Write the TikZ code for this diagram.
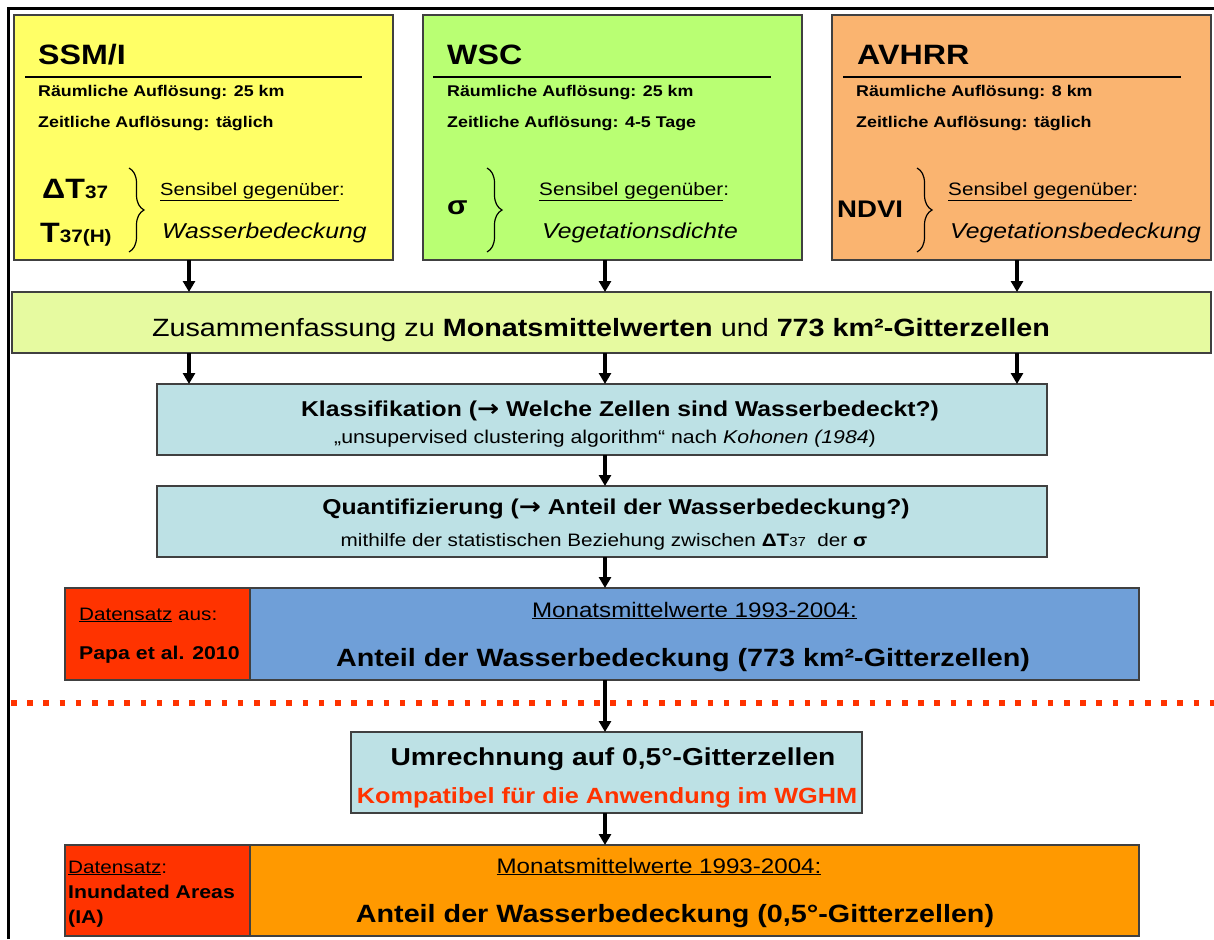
\documentclass[tikz,border=0pt]{standalone}
\usepackage{fontspec}
\setmainfont{Liberation Sans}[FakeStretch=1.15]
\newfontfamily\arrowfont{DejaVu Sans}[FakeStretch=1.15]
\usetikzlibrary{arrows.meta,decorations.pathreplacing}

\definecolor{ssmiyellow}{HTML}{FFFF66}
\definecolor{wscgreen}{HTML}{B9FF73}
\definecolor{avhrrorange}{HTML}{FAB470}
\definecolor{summgreen}{HTML}{E6FAA0}
\definecolor{procblue}{HTML}{BDE1E5}
\definecolor{resblue}{HTML}{6F9FD8}
\definecolor{datred}{HTML}{FF3300}
\definecolor{resorange}{HTML}{FF9900}

\newcommand{\fsz}[1]{\fontsize{#1}{#1}\selectfont}
\newcommand{\bigarr}{{\arrowfont\bfseries\fsz{23}→}}

\tikzset{
    frame/.style={line width=3pt},
    srcbox/.style={draw=black!75, line width=1.6pt, anchor=north west,
        minimum width=379pt, minimum height=245pt, inner sep=0, outer sep=0},
    flowbox/.style={draw=black!75, line width=1.6pt, inner sep=0, outer sep=0},
    txt/.style={inner sep=0, anchor=base west},
    ctxt/.style={inner sep=0, anchor=base},
    rule/.style={line width=1.2pt},
    brc/.style={decorate, decoration={brace, amplitude=15pt}, line width=1.2pt},
    arr/.style={line width=3.3pt, -{Triangle[length=11pt,width=12pt]}},
}

\begin{document}
\begin{tikzpicture}[x=1pt, y=-1pt]
\useasboundingbox (0,0) rectangle (1214,939);

% ========= Rahmen =========
\draw[frame] (8.5,939) -- (8.5,8.5) -- (1214,8.5);

% ========= SSM/I =========
\begin{scope}[shift={(14,15)}]
    \node[srcbox, fill=ssmiyellow] (ssmi) at (0,0) {};
    \node[txt, font=\fsz{28}\bfseries] (ssmi-title) at (24,50) {SSM/I};
    \draw[rule] (11,62) -- (348,62);
    \node[txt, font=\fsz{15.5}\bfseries] (ssmi-res) at (24,81) {Räumliche Auflösung: 25 km};
    \node[txt, font=\fsz{15.5}\bfseries] (ssmi-time) at (24,113) {Zeitliche Auflösung: täglich};
    % Messgroessen + Klammer
    \node[txt, font=\fsz{28}\bfseries] (ssmi-dt) at (28,183) {ΔT{\fsz{18}37}};
    \node[txt, font=\fsz{28}\bfseries] (ssmi-t) at (26,227) {T{\fsz{18}37(H)}};
    \draw[brc] (115,153) -- (115,237);
    \node[txt, font=\fsz{17.5}] (ssmi-sens) at (146,180) {\underline{Sensibel gegenüber}:};
    \node[txt, font=\fsz{21.5}\itshape] (ssmi-what) at (148,223) {Wasserbedeckung};
\end{scope}

% ========= WSC =========
\begin{scope}[shift={(423,15)}]
    \node[srcbox, fill=wscgreen] (wsc) at (0,0) {};
    \node[txt, font=\fsz{28}\bfseries] (wsc-title) at (24,50) {WSC};
    \draw[rule] (10,62) -- (348,62);
    \node[txt, font=\fsz{15.5}\bfseries] (wsc-res) at (24,81) {Räumliche Auflösung: 25 km};
    \node[txt, font=\fsz{15.5}\bfseries] (wsc-time) at (24,113) {Zeitliche Auflösung: 4-5 Tage};
    % Messgroesse + Klammer
    \node[txt, font=\fsz{26}\bfseries] (wsc-sigma) at (24,199) {σ};
    \draw[brc] (64,153) -- (64,237);
    \node[txt, font=\fsz{18}] (wsc-sens) at (116,180) {\underline{Sensibel gegenüber}:};
    \node[txt, font=\fsz{21.5}\itshape] (wsc-what) at (119,223) {Vegetationsdichte};
\end{scope}

% ========= AVHRR =========
\begin{scope}[shift={(832,15)}]
    \node[srcbox, fill=avhrrorange] (avhrr) at (0,0) {};
    \node[txt, font=\fsz{28}\bfseries] (avhrr-title) at (25,50) {AVHRR};
    \draw[rule] (11,62) -- (349,62);
    \node[txt, font=\fsz{15.5}\bfseries] (avhrr-res) at (24,81) {Räumliche Auflösung: 8 km};
    \node[txt, font=\fsz{15.5}\bfseries] (avhrr-time) at (24,113) {Zeitliche Auflösung: täglich};
    % Messgroesse + Klammer
    \node[txt, font=\fsz{24}\bfseries] (avhrr-ndvi) at (5,202) {NDVI};
    \draw[brc] (85,153) -- (85,237);
    \node[txt, font=\fsz{18}] (avhrr-sens) at (116,180) {\underline{Sensibel gegenüber}:};
    \node[txt, font=\fsz{21.5}\itshape] (avhrr-what) at (118,223) {Vegetationsbedeckung};
\end{scope}

% ========= Verarbeitung =========
\node[flowbox, fill=summgreen, minimum width=1199pt, minimum height=61pt] (summ) at (611.5,322.5) {};
\node[ctxt, font=\fsz{25}] (summ-text) at (601,336)
    {Zusammenfassung zu \textbf{Monatsmittelwerten} und \textbf{773 km²-Gitterzellen}};

\node[flowbox, fill=procblue, minimum width=890pt, minimum height=71pt] (klass) at (602,419.5) {};
\node[ctxt, font=\fsz{21.5}\bfseries] (klass-title) at (620,416.5)
    {Klassifikation (\bigarr{} Welche Zellen sind Wasserbedeckt?)};
\node[ctxt, font=\fsz{18.5}] (klass-sub) at (605,443)
    {„unsupervised clustering algorithm“ nach \textit{Kohonen (1984})};

\node[flowbox, fill=procblue, minimum width=890pt, minimum height=71pt] (quant) at (602,521.5) {};
\node[ctxt, font=\fsz{21.5}\bfseries] (quant-title) at (616,514.5)
    {Quantifizierung (\bigarr{} Anteil der Wasserbedeckung?)};
\node[ctxt, font=\fsz{18}] (quant-sub) at (604,546)
    {mithilfe der statistischen Beziehung zwischen \textbf{ΔT}{\fsz{13}37}\ \ der \textbf{σ}};

% ========= Ergebnis 773 km² =========
\node[flowbox, fill=datred, minimum width=185pt, minimum height=92pt] (papa) at (157.5,634) {};
\node[txt, font=\fsz{18}] (papa-head) at (79,620) {\underline{Datensatz} aus:};
\node[txt, font=\fsz{18.5}\bfseries] (papa-ref) at (79,659) {Papa et al. 2010};
\node[flowbox, fill=resblue, minimum width=889pt, minimum height=92pt] (anteil) at (694.5,634) {};
\node[ctxt, font=\fsz{21}] (anteil-head) at (694.5,617) {\underline{Monatsmittelwerte 1993-2004:}};
\node[ctxt, font=\fsz{25}\bfseries] (anteil-text) at (683,666)
    {Anteil der Wasserbedeckung (773 km²-Gitterzellen)};

% ========= Trennlinie =========
\draw[datred, line width=5.5pt, dash pattern=on 5.5pt off 10.7pt] (11,703) -- (1214,703);

% ========= Umrechnung =========
\node[flowbox, fill=procblue, minimum width=511pt, minimum height=81pt] (umr) at (606.5,772.5) {};
\node[ctxt, font=\fsz{24.5}\bfseries] (umr-title) at (613,765) {Umrechnung auf 0,5°-Gitterzellen};
\node[ctxt, font=\fsz{22}\bfseries, text=datred] (umr-sub) at (607,803) {Kompatibel für die Anwendung im WGHM};

% ========= Ergebnis 0,5° =========
\node[flowbox, fill=datred, minimum width=185pt, minimum height=91pt] (ia) at (157.5,890.5) {};
\node[txt, font=\fsz{18}] (ia-head) at (68,873) {\underline{Datensatz}:};
\node[txt, font=\fsz{18.5}\bfseries] (ia-name) at (68,898) {Inundated Areas};
\node[txt, font=\fsz{18.5}\bfseries] (ia-abbr) at (68,923) {(IA)};
\node[flowbox, fill=resorange, minimum width=889pt, minimum height=91pt] (anteilhalf) at (694.5,890.5) {};
\node[ctxt, font=\fsz{21}] (anteilhalf-head) at (659,873) {\underline{Monatsmittelwerte 1993-2004:}};
\node[ctxt, font=\fsz{25}\bfseries] (anteilhalf-text) at (675,922)
    {Anteil der Wasserbedeckung (0,5°-Gitterzellen)};

% ========= Pfeile =========
\coordinate (colL) at (189,0);
\coordinate (colM) at (605,0);
\coordinate (colR) at (1017,0);
\draw[arr] (ssmi.south -| colL) -- (summ.north -| colL);
\draw[arr] (wsc.south -| colM) -- (summ.north -| colM);
\draw[arr] (avhrr.south -| colR) -- (summ.north -| colR);
\draw[arr] (summ.south -| colL) -- (klass.north -| colL);
\draw[arr] (summ.south -| colM) -- (klass.north -| colM);
\draw[arr] (summ.south -| colR) -- (klass.north -| colR);
\draw[arr] (klass.south -| colM) -- (quant.north -| colM);
\draw[arr] (quant.south -| colM) -- (anteil.north -| colM);
\draw[arr] (anteil.south -| colM) -- (umr.north -| colM);
\draw[arr] (umr.south -| colM) -- (anteilhalf.north -| colM);
\end{tikzpicture}
\end{document}
